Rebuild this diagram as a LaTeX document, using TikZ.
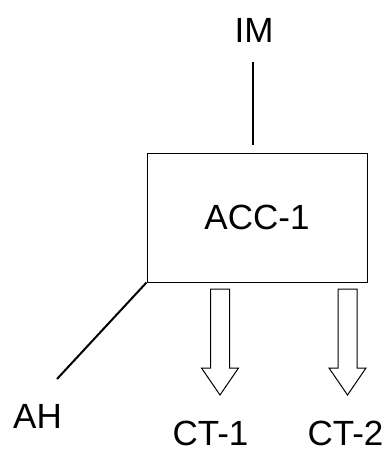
\documentclass[tikz,border=0pt]{standalone}
\usepackage{fontspec}
\setmainfont{Liberation Sans}
\usetikzlibrary{calc}
\begin{document}
\begin{tikzpicture}[x=1pt,y=-1pt,
  lbl/.style={font=\fontsize{35}{40}\selectfont, inner sep=0pt, anchor=base},
  wire/.style={line width=2pt, black},
  hollowarrow/.style={draw, line width=1pt, fill=white, line join=miter}]
\useasboundingbox (0,0) rectangle (390,450);
% box
\node[draw, line width=1pt, minimum width=220pt, minimum height=129pt, inner sep=0pt,
      font=\fontsize{35}{40}\selectfont] (acc) at (257,217.5) {ACC-1};
% labels
\node[lbl] (im) at (254,42) {IM};
\node[lbl] (ah) at (37.5,428) {AH};
\node[lbl] (ct1) at (210.5,445) {CT-1};
\node[lbl] (ct2) at (345.5,445) {CT-2};
% IM connector
\coordinate (imA) at (253,62);
\coordinate (imB) at (253,145);
\draw[wire] (imA) -- (imB);
% AH connector
\coordinate (ahEnd) at (57,379);
\draw[wire] (acc.south west) -- (ahEnd);
% hollow arrows
\foreach \cx/\nm in {220/a1, 347.5/a2}{
  \coordinate (\nm) at (\cx,289);
  \draw[hollowarrow] ($(\nm)+(-9.5,0)$) -- ($(\nm)+(9.5,0)$) -- ($(\nm)+(9.5,79)$) -- ($(\nm)+(18.5,79)$)
     -- ($(\nm)+(0,106)$) -- ($(\nm)+(-18.5,79)$) -- ($(\nm)+(-9.5,79)$) -- cycle;
}
\end{tikzpicture}
\end{document}
